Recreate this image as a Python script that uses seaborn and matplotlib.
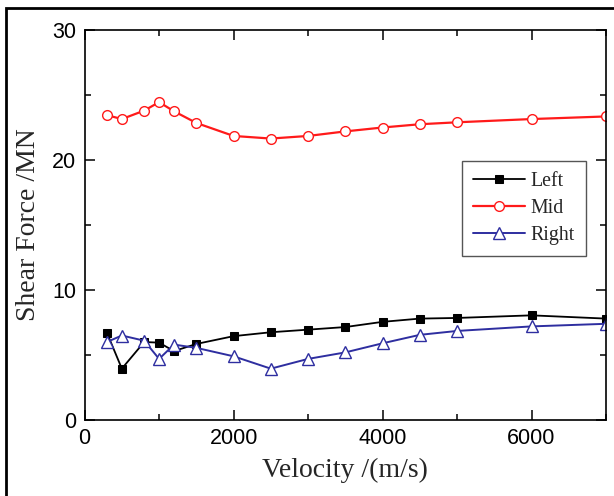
import matplotlib
matplotlib.use("Agg")
import matplotlib.pyplot as plt
import matplotlib.patches as mpatches
from matplotlib.ticker import MultipleLocator
import seaborn as sns
import pandas as pd

velocity = [300, 500, 800, 1000, 1200, 1500, 2000, 2500, 3000, 3500, 4000, 4500, 5000, 6000, 7000]
left_force = [6.7, 3.95, 6.0, 5.95, 5.3, 5.85, 6.45, 6.75, 6.95, 7.15, 7.55, 7.8, 7.85, 8.05, 7.8]
mid_force = [23.45, 23.15, 23.8, 24.45, 23.75, 22.85, 21.85, 21.65, 21.85, 22.2, 22.5, 22.75, 22.9, 23.15, 23.35]
right_force = [6.0, 6.5, 6.1, 4.7, 5.8, 5.55, 4.9, 3.95, 4.7, 5.2, 5.9, 6.55, 6.85, 7.2, 7.4]
series_names = ["Left", "Mid", "Right"]
x_ticks = [0, 2000, 4000, 6000]
y_ticks = [0, 10, 20, 30]

sns.set_style("ticks")
plt.rcParams["font.family"] = ["Liberation Sans", "DejaVu Sans"]
plt.rcParams["xtick.direction"] = "in"
plt.rcParams["ytick.direction"] = "in"

fig = plt.figure(figsize=(6.14, 4.96), dpi=100)
ax = fig.add_axes([84.6 / 614, 1 - 420 / 496, (606 - 84.6) / 614, 390 / 496])

df = pd.DataFrame({"v": velocity, "Left": left_force, "Mid": mid_force, "Right": right_force})

styles = {
    "Left": dict(color="black", marker="s", markersize=5.8, markerfacecolor="black",
                 markeredgecolor="black", linewidth=1.3),
    "Mid": dict(color="#ff1a1a", marker="o", markersize=7, markerfacecolor="white",
                markeredgecolor="#ff1a1a", markeredgewidth=1.0, linewidth=1.6),
    "Right": dict(color="#2e2ea0", marker="^", markersize=8, markerfacecolor="white",
                  markeredgecolor="#2e2ea0", markeredgewidth=1.0, linewidth=1.4),
}
for name in series_names:
    sns.lineplot(data=df, x="v", y=name, ax=ax, label=name, **styles[name])

ax.set_xlim(0, 7000)
ax.set_ylim(0, 30)
ax.set_xticks(x_ticks)
ax.set_yticks(y_ticks)
ax.xaxis.set_minor_locator(MultipleLocator(1000))
ax.yaxis.set_minor_locator(MultipleLocator(5))
ax.tick_params(which="both", top=True, right=True, direction="in", width=1.1, colors="black",
               labelsize=15.5, pad=6)
ax.tick_params(which="major", length=7)
ax.tick_params(which="minor", length=4)
ax.tick_params(top=True, right=True, labeltop=False, labelright=False)
for s in ax.spines.values():
    s.set_visible(True)
    s.set_linewidth(1.2)
    s.set_color("black")

serif = ["Liberation Serif", "DejaVu Serif"]
ax.set_xlabel("Velocity /(m/s)", fontsize=20, family=serif, labelpad=6)
ax.set_ylabel("Shear Force /MN", fontsize=20, family=serif, labelpad=8)

leg = ax.legend(loc="upper left", bbox_to_anchor=(0.724, 0.663), borderaxespad=0,
                prop={"family": serif, "size": 14.3}, handlelength=2.6, handletextpad=0.3,
                labelspacing=0.4, borderpad=0.55, fancybox=False, framealpha=1,
                edgecolor="#555555")
leg.get_frame().set_linewidth(1.0)

fig.add_artist(mpatches.Rectangle((6 / 614, -0.1), 1.2, 1 - 8 / 496 + 0.1, fill=False,
                                  edgecolor="black", linewidth=2, transform=fig.transFigure))

fig.savefig("out.png", dpi=100)
